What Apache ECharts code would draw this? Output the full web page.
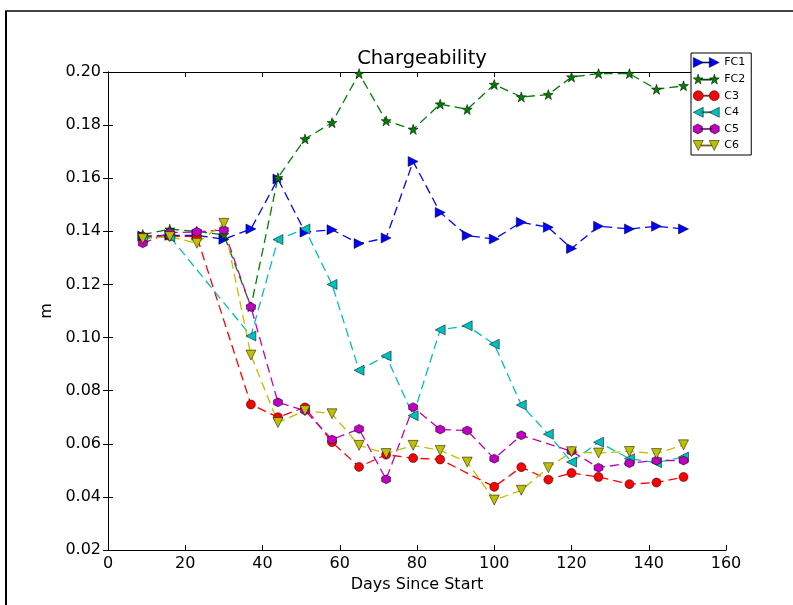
<!DOCTYPE html>
<html>
<head>
<meta charset="utf-8">
<script src="https://cdn.jsdelivr.net/npm/echarts@6/dist/echarts.min.js"></script>
<style>
    html, body { margin: 0; padding: 0; background: #fff; }
    #chart { width: 793px; height: 605px; }
</style>
</head>
<body>
<div id="chart"></div>
<script>
const days = [9, 16, 23, 30, 37, 44, 51, 58, 65, 72, 79, 86, 93, 100, 107, 114, 120, 127, 135, 142, 149];

const fc1 = [0.1382, 0.1385, 0.1385, 0.1370, 0.1409, 0.1597, 0.1397, 0.1406, 0.1354, 0.1375, 0.1663, 0.1471, 0.1384, 0.1371, 0.1434, 0.1415, 0.1335, 0.1419, 0.1409, 0.1419, 0.1409];
const fc2 = [0.1388, 0.1408, 0.1400, 0.1387, 0.1116, 0.1602, 0.1748, 0.1809, 0.1994, 0.1816, 0.1784, 0.1879, 0.1859, 0.1953, 0.1906, 0.1915, 0.1981, 0.1994, 0.1994, 0.1935, 0.1948];
const c3 = [0.1380, 0.1382, 0.1380, null, 0.0748, 0.0700, 0.0737, 0.0606, 0.0513, 0.0559, 0.0546, 0.0541, null, 0.0438, 0.0512, 0.0465, 0.0490, 0.0475, 0.0448, 0.0454, 0.0475];
const c4 = [0.1375, 0.1380, null, null, 0.1006, 0.1369, 0.1409, 0.1200, 0.0877, 0.0931, 0.0706, 0.1029, 0.1044, 0.0975, 0.0746, 0.0636, 0.0531, 0.0606, 0.0544, 0.0529, 0.0550];
const c5 = [0.1355, 0.1395, 0.1398, 0.1405, 0.1115, 0.0756, 0.0725, 0.0616, 0.0656, 0.0466, 0.0738, 0.0654, 0.0650, 0.0544, 0.0632, null, 0.0572, 0.0510, 0.0527, 0.0537, 0.0537];
const c6 = [0.1372, 0.1380, 0.1355, 0.1430, 0.0934, 0.0680, 0.0725, 0.0713, 0.0594, 0.0563, 0.0594, 0.0575, 0.0531, 0.0388, 0.0425, 0.0510, 0.0570, 0.0565, 0.0571, 0.0563, 0.0596];

const FONT = 'DejaVu Sans';

// marker outlines in a 10x10 box
const shapes = {
    right: [[0, 0], [10, 5], [0, 10]],
    left: [[10, 0], [0, 5], [10, 10]],
    down: [[0, 0], [10, 0], [5, 10]],
    star: [[5, 0], [6.18, 3.38], [9.76, 3.45], [6.9, 5.62], [7.94, 9.05], [5, 7], [2.06, 9.05], [3.1, 5.62], [0.24, 3.45], [3.82, 3.38]],
    hex: [[5, 0], [9.33, 2.5], [9.33, 7.5], [5, 10], [0.67, 7.5], [0.67, 2.5]]
};

const poly = (pts, dx) => 'M' + pts.map(p => (p[0] + dx) + ',' + p[1]).join(' L') + ' Z';
const circ = dx => 'M' + dx + ',5 A5,5 0 1,0 ' + (dx + 10) + ',5 A5,5 0 1,0 ' + dx + ',5 Z';

const markerPath = key => 'path://' + (key === 'circle' ? circ(0) : poly(shapes[key], 0));

// legend icon: two markers joined by a short line, like matplotlib
const legendPath = key => {
    const one = dx => key === 'circle' ? circ(dx) : poly(shapes[key], dx);
    return 'path://' + one(0) + ' M8,4.5 L18,4.5 L18,5.5 L8,5.5 Z ' + one(16);
};

const pairs = ys => days.map((d, i) => [d, ys[i]]);

const makeSeries = (name, ys, color, key, size) => ({
    name: name,
    type: 'line',
    data: pairs(ys),
    connectNulls: true,
    symbol: key === 'circle' ? 'circle' : markerPath(key),
    symbolSize: size,
    showAllSymbol: true,
    lineStyle: { color: color, width: 1.3, type: [9, 5] },
    itemStyle: { color: color, borderColor: '#000', borderWidth: 0.5 },
    emphasis: { disabled: true },
    animation: false
});

const names = ['FC1', 'FC2', 'C3', 'C4', 'C5', 'C6'];
const keys = ['right', 'star', 'circle', 'left', 'hex', 'down'];

const chart = echarts.init(document.getElementById('chart'));

const option = {
    backgroundColor: '#fff',
    animation: false,
    title: {
        text: 'Chargeability',
        left: 417,
        top: 44,
        textAlign: 'center',
        textStyle: { fontFamily: FONT, fontSize: 19.5, fontWeight: 'normal', color: '#000' }
    },
    legend: {
        orient: 'vertical',
        left: 691,
        top: 53,
        padding: [4, 6, 4, 2],
        itemWidth: 26,
        itemHeight: 10,
        itemGap: 5.6,
        symbolKeepAspect: false,
        itemStyle: { borderColor: '#000', borderWidth: 0.5 },
        borderColor: '#000',
        borderWidth: 1,
        borderRadius: 0,
        backgroundColor: '#fff',
        textStyle: { fontFamily: FONT, fontSize: 11, color: '#000' },
        data: names.map((n, i) => ({ name: n, icon: legendPath(keys[i]) }))
    },
    graphic: [
        { type: 'line', shape: { x1: 5, y1: 11, x2: 793, y2: 11 }, style: { stroke: '#444', lineWidth: 2 } },
        { type: 'line', shape: { x1: 6, y1: 11, x2: 6, y2: 605 }, style: { stroke: '#000', lineWidth: 2 } }
    ],
    grid: { left: 108, right: 67, top: 72, bottom: 55 },
    xAxis: [
        {
            type: 'value',
            min: 0,
            max: 160,
            interval: 20,
            name: 'Days Since Start',
            nameLocation: 'middle',
            nameGap: 26,
            nameTextStyle: { fontFamily: FONT, fontSize: 16, color: '#000' },
            axisLine: { lineStyle: { color: '#000', width: 1 } },
            axisTick: { inside: true, length: 5, lineStyle: { color: '#000' } },
            axisLabel: { fontFamily: FONT, fontSize: 16, color: '#000', margin: 6 },
            splitLine: { show: false }
        },
        {
            type: 'value',
            position: 'top',
            min: 0,
            max: 160,
            interval: 20,
            axisLine: { lineStyle: { color: '#000', width: 1 } },
            axisTick: { inside: true, length: 5, lineStyle: { color: '#000' } },
            axisLabel: { show: false },
            splitLine: { show: false }
        }
    ],
    yAxis: [
        {
            type: 'value',
            min: 0.02,
            max: 0.20,
            interval: 0.02,
            name: 'm',
            nameLocation: 'middle',
            nameGap: 52,
            nameTextStyle: { fontFamily: FONT, fontSize: 16, color: '#000' },
            axisLine: { show: true, lineStyle: { color: '#000', width: 1 } },
            axisTick: { show: true, inside: true, length: 5, lineStyle: { color: '#000' } },
            axisLabel: { fontFamily: FONT, fontSize: 16, color: '#000', margin: 7, formatter: v => v.toFixed(2) },
            splitLine: { show: false }
        },
        {
            type: 'value',
            position: 'right',
            min: 0.02,
            max: 0.20,
            interval: 0.02,
            axisLine: { show: true, lineStyle: { color: '#000', width: 1 } },
            axisTick: { show: true, inside: true, length: 5, lineStyle: { color: '#000' } },
            axisLabel: { show: false },
            splitLine: { show: false }
        }
    ],
    series: [
        makeSeries('FC1', fc1, '#0000ff', 'right', 10),
        makeSeries('FC2', fc2, '#007f00', 'star', 10),
        makeSeries('C3', c3, '#ff0000', 'circle', 9),
        makeSeries('C4', c4, '#00bfbf', 'left', 10),
        makeSeries('C5', c5, '#bf00bf', 'hex', 9),
        makeSeries('C6', c6, '#bfbf00', 'down', 10)
    ]
};

chart.setOption(option);
</script>
</body>
</html>
